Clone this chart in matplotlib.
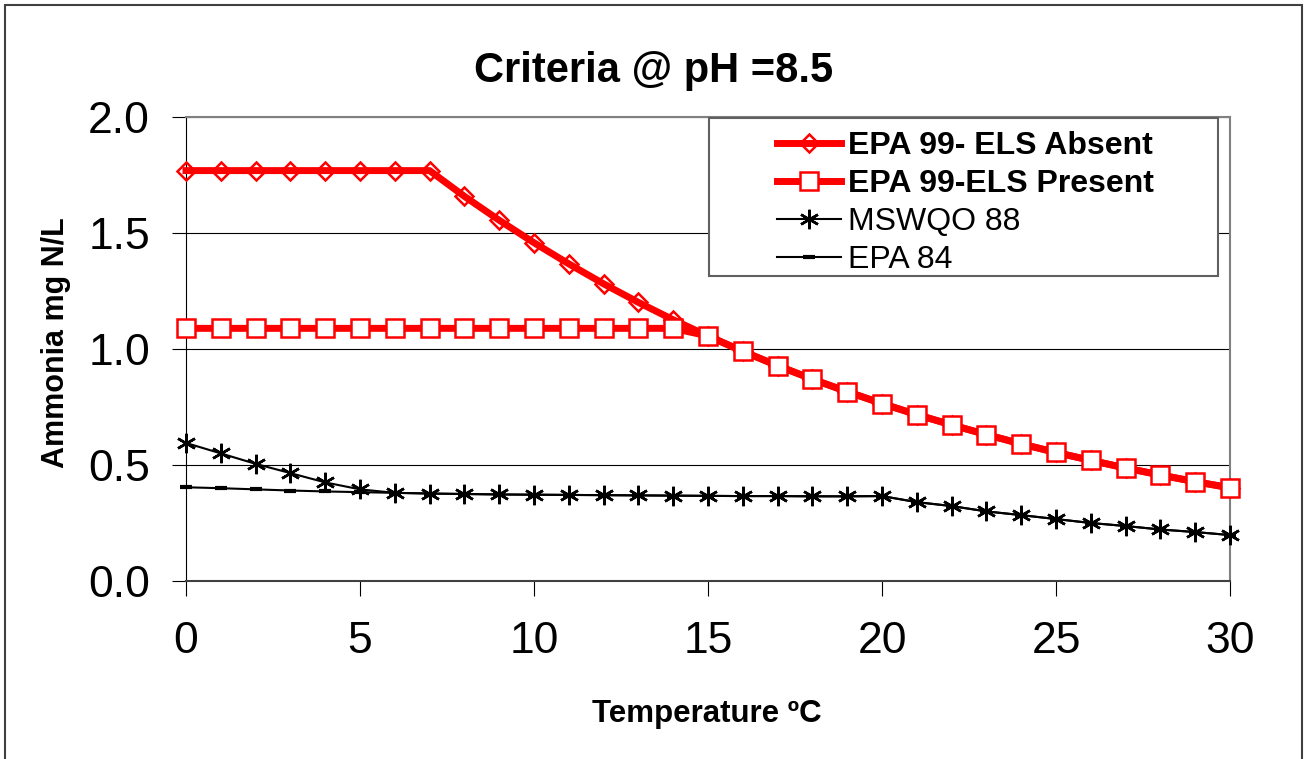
import matplotlib
matplotlib.use("Agg")
import matplotlib.pyplot as plt
from matplotlib.patches import Rectangle

# data (ammonia criteria, mg N/L, at pH 8.5)
temps = list(range(31))
els_absent = [1.769, 1.769, 1.769, 1.769, 1.769, 1.769, 1.769, 1.769, 1.658, 1.555,
              1.458, 1.367, 1.281, 1.201, 1.126, 1.056, 0.990, 0.928, 0.870, 0.816,
              0.765, 0.717, 0.673, 0.631, 0.591, 0.554, 0.520, 0.487, 0.457, 0.428, 0.402]
els_present = [1.089, 1.089, 1.089, 1.089, 1.089, 1.089, 1.089, 1.089, 1.089, 1.089,
               1.089, 1.089, 1.089, 1.089, 1.089, 1.056, 0.990, 0.928, 0.870, 0.816,
               0.765, 0.717, 0.673, 0.631, 0.591, 0.554, 0.520, 0.487, 0.457, 0.428, 0.402]
mswqo_88 = [0.595, 0.550, 0.505, 0.465, 0.425, 0.395, 0.380, 0.377, 0.375, 0.373,
            0.372, 0.371, 0.370, 0.369, 0.368, 0.367, 0.366, 0.366, 0.365, 0.365,
            0.366, 0.340, 0.323, 0.300, 0.284, 0.267, 0.250, 0.237, 0.222, 0.211, 0.198]
epa_84 = [0.404, 0.400, 0.395, 0.390, 0.386, 0.383, 0.380, 0.377, 0.375, 0.373,
          0.372, 0.371, 0.370, 0.369, 0.368, 0.367, 0.366, 0.366, 0.365, 0.365,
          0.366, 0.340, 0.323, 0.300, 0.284, 0.267, 0.250, 0.237, 0.222, 0.211, 0.198]
x_ticks = [0, 5, 10, 15, 20, 25, 30]
y_ticks = [0.0, 0.5, 1.0, 1.5, 2.0]

plt.rcParams["font.family"] = ["Liberation Sans", "DejaVu Sans"]

W, H = 1304, 759
fig = plt.figure(figsize=(W / 100, H / 100), dpi=100)
ax = fig.add_axes([186 / W, 1 - 581 / H, (1230 - 186) / W, (581 - 117) / H])

ax.plot(temps, els_absent, color="red", lw=5, marker="D", ms=9.5, mfc="none",
        mec="red", mew=1.8, label="EPA 99- ELS Absent", zorder=3, clip_on=False)
ax.plot(temps, els_present, color="red", lw=5, marker="s", ms=13.5, mfc="white",
        mec="red", mew=1.8, label="EPA 99-ELS Present", zorder=4, clip_on=False)
ax.plot(temps, epa_84, color="black", lw=1.5, marker="_", ms=9, mew=3,
        label="EPA 84", zorder=5, clip_on=False)
ax.plot(temps, mswqo_88, color="black", lw=1.5, marker=(6, 2, 0), ms=14, mew=1.8,
        label="MSWQO 88", zorder=6, clip_on=False)

ax.set_xlim(0, 30)
ax.set_ylim(0, 2)
ax.set_xticks(x_ticks)
ax.set_xticklabels([str(t) for t in x_ticks])
ax.set_yticks(y_ticks)
ax.set_yticklabels([f"{v:.1f}" for v in y_ticks])
ax.yaxis.grid(True, color="black", lw=0.8)
ax.tick_params(axis="y", length=10, width=0.8, pad=16, labelsize=32)
ax.tick_params(axis="x", length=11, width=0.8, pad=18, labelsize=32)

ax.spines["top"].set_color("#808080")
ax.spines["right"].set_color("#808080")
ax.spines["top"].set_linewidth(1.5)
ax.spines["right"].set_linewidth(1.5)
ax.spines["left"].set_color("black")
ax.spines["left"].set_linewidth(0.8)
ax.spines["bottom"].set_color("#404040")
ax.spines["bottom"].set_linewidth(1.5)

# legend box
box = Rectangle((709 / W, 1 - 276 / H), 509 / W, 158 / H, transform=fig.transFigure,
                facecolor="white", edgecolor="#606060", lw=1.5, zorder=7, clip_on=False)
ax.add_patch(box)
h, l = ax.get_legend_handles_labels()
order = [0, 1, 3, 2]
leg = ax.legend([h[i] for i in order], [l[i] for i in order], loc="upper left",
                bbox_to_anchor=(777 / W, 1 - 131 / H), bbox_transform=fig.transFigure,
                frameon=False, fontsize=23, borderpad=0, borderaxespad=0,
                handlelength=2.0, handletextpad=0.22, labelspacing=0.25)
leg.set_zorder(8)
for t in leg.get_texts()[:2]:
    t.set_fontweight("bold")

fig.text(654 / W, 1 - 82 / H, "Criteria @ pH =8.5", ha="center", va="baseline",
         fontsize=30, fontweight="bold")
fig.text(56 / W, 1 - 343 / H, "Ammonia mg N/L", ha="center", va="center",
         rotation=90, fontsize=22, fontweight="bold")
fig.text(707 / W, 1 - 722 / H, "Temperature ºC", ha="center", va="baseline",
         fontsize=22.5, fontweight="bold")

# outer chart border
fig.patches.append(Rectangle((5 / W, -0.05), (1302 - 5) / W, 1 - 5 / H + 0.05,
                             transform=fig.transFigure, fill=False,
                             edgecolor="#404040", lw=1.5))

fig.savefig("out.png", dpi=100)
